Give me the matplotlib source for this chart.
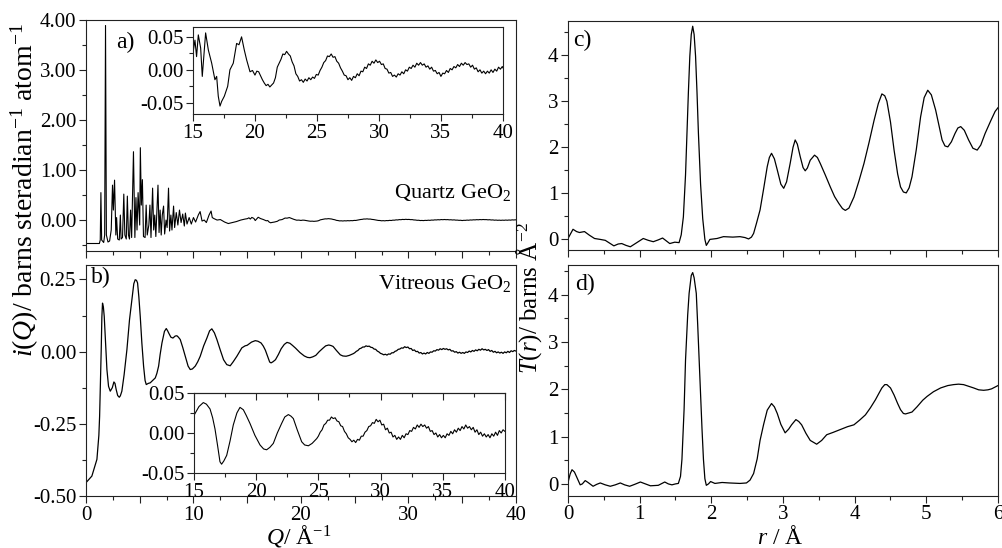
import matplotlib
matplotlib.use('Agg')
import matplotlib.pyplot as plt
from matplotlib.ticker import MultipleLocator, FuncFormatter

plt.rcParams['font.family'] = ['Liberation Serif', 'DejaVu Serif']
plt.rcParams['mathtext.fontset'] = 'custom'
plt.rcParams['mathtext.rm'] = 'Liberation Serif'
plt.rcParams['mathtext.it'] = 'Liberation Serif:italic'
plt.rcParams['mathtext.bf'] = 'Liberation Serif:bold'

# ---------------- data ----------------
# (a) quartz GeO2, i(Q)
quartz_pts = [
    (0.0, -0.47), (1.25, -0.47), (1.33, -0.40), (1.39, 0.55), (1.46, -0.40), (1.65, -0.45),
    (1.74, -0.30), (1.82, 3.90), (1.90, -0.30), (2.05, -0.44), (2.20, -0.42), (2.35, -0.20),
    (2.47, 0.70), (2.55, 0.20), (2.66, 0.80), (2.78, -0.30), (2.85, 0.05), (2.95, -0.38),
    (3.10, -0.40), (3.20, 0.10), (3.27, -0.38), (3.40, -0.35), (3.52, 0.52), (3.62, -0.30),
    (3.75, -0.38), (3.85, 0.48), (3.95, -0.30), (4.05, -0.38), (4.15, 0.20), (4.25, -0.35),
    (4.42, 1.37), (4.55, -0.35), (4.65, 0.45), (4.75, -0.20), (4.85, 0.55), (5.00, -0.10),
    (5.06, 1.45), (5.15, 0.30), (5.25, 0.81), (5.35, -0.33), (5.50, -0.35), (5.60, 0.30),
    (5.70, -0.30), (5.85, -0.10), (5.95, 0.30), (6.05, -0.35), (6.20, 0.64), (6.30, -0.20),
    (6.40, 0.10), (6.50, -0.33), (6.60, 0.20), (6.70, 0.70), (6.80, -0.25), (6.90, 0.20),
    (7.00, -0.30), (7.10, 0.10), (7.22, 0.28), (7.32, -0.28), (7.45, 0.00), (7.55, -0.15),
    (7.68, 0.64), (7.78, -0.22), (7.90, 0.10), (8.00, -0.20), (8.15, 0.28), (8.25, -0.15),
    (8.40, 0.15), (8.55, -0.10), (8.70, 0.20), (8.85, -0.05), (9.00, 0.12), (9.15, -0.12),
    (9.25, 0.14), (9.40, -0.08), (9.60, 0.05), (9.80, -0.08), (10.00, 0.05), (10.20, -0.04),
    (10.45, 0.10), (10.62, 0.17), (10.80, -0.02), (11.00, 0.00), (11.20, -0.05), (11.45, 0.10),
    (11.64, 0.18), (11.75, 0.05), (11.90, 0.03), (12.20, 0.00), (12.50, 0.01), (12.90, -0.04),
    (13.24, -0.07), (13.60, -0.05), (14.00, -0.03), (14.40, 0.00), (14.80, 0.02),
    (15.02, 0.028), (15.16, 0.045), (15.29, 0.020), (15.43, 0.053), (15.62, 0.033),
    (15.75, -0.010), (15.89, 0.025), (16.02, 0.056), (16.24, 0.030), (16.51, 0.010),
    (16.77, -0.015), (16.91, -0.010), (17.04, -0.040), (17.18, -0.055), (17.31, -0.048),
    (17.53, -0.040), (17.80, -0.025), (17.98, 0.000), (18.25, 0.010), (18.52, 0.040),
    (18.71, 0.038), (18.92, 0.050), (19.14, 0.030), (19.33, 0.015), (19.60, -0.003),
    (19.80, -0.001), (20.00, -0.008), (20.15, -0.002), (20.30, -0.003), (20.45, -0.009),
    (20.60, -0.015), (20.75, -0.020), (20.90, -0.024), (21.05, -0.022), (21.20, -0.026),
    (21.35, -0.023), (21.50, -0.020), (21.65, -0.012), (21.80, 0.004), (21.95, 0.010),
    (22.10, 0.016), (22.25, 0.024), (22.40, 0.023), (22.55, 0.028), (22.70, 0.024),
    (22.85, 0.021), (23.00, 0.012), (23.15, 0.006), (23.30, -0.006), (23.45, -0.010),
    (23.60, -0.017), (23.75, -0.015), (23.90, -0.019), (24.05, -0.014), (24.20, -0.017),
    (24.35, -0.012), (24.50, -0.015), (24.65, -0.011), (24.80, -0.013), (24.95, -0.007),
    (25.10, -0.008), (25.25, -0.001), (25.40, 0.004), (25.55, 0.011), (25.70, 0.014),
    (25.85, 0.021), (26.00, 0.020), (26.15, 0.024), (26.30, 0.019), (26.45, 0.020),
    (26.60, 0.013), (26.75, 0.010), (26.90, 0.003), (27.05, -0.002), (27.20, -0.008),
    (27.35, -0.009), (27.50, -0.015), (27.65, -0.012), (27.80, -0.016), (27.95, -0.010),
    (28.10, -0.012), (28.25, -0.006), (28.40, -0.009), (28.55, -0.002), (28.70, -0.003),
    (28.85, 0.004), (29.00, 0.002), (29.15, 0.009), (29.30, 0.007), (29.45, 0.013),
    (29.60, 0.010), (29.75, 0.015), (29.90, 0.011), (30.05, 0.013), (30.20, 0.008),
    (30.35, 0.009), (30.50, 0.002), (30.65, 0.001), (30.80, -0.005), (30.95, -0.004),
    (31.10, -0.010), (31.25, -0.008), (31.40, -0.011), (31.55, -0.006), (31.70, -0.008),
    (31.85, -0.003), (32.00, -0.006), (32.15, 0.000), (32.30, -0.002), (32.45, 0.004),
    (32.60, 0.002), (32.75, 0.007), (32.90, 0.004), (33.05, 0.010), (33.20, 0.007),
    (33.35, 0.011), (33.50, 0.007), (33.65, 0.009), (33.80, 0.004), (33.95, 0.006),
    (34.10, 0.001), (34.25, 0.004), (34.40, -0.002), (34.55, -0.001), (34.70, -0.006),
    (34.85, -0.004), (35.00, -0.010), (35.15, -0.005), (35.30, -0.006), (35.45, -0.001),
    (35.60, -0.004), (35.75, 0.002), (35.90, 0.000), (36.05, 0.005), (36.20, 0.003),
    (36.35, 0.008), (36.50, 0.005), (36.65, 0.010), (36.80, 0.007), (36.95, 0.011),
    (37.10, 0.008), (37.25, 0.009), (37.40, 0.004), (37.55, 0.007), (37.70, 0.001),
    (37.85, 0.003), (38.00, -0.003), (38.15, 0.000), (38.30, -0.005), (38.45, -0.002),
    (38.60, -0.006), (38.75, -0.002), (38.90, -0.005), (39.05, 0.000), (39.20, -0.004),
    (39.35, 0.001), (39.50, -0.002), (39.65, 0.004), (39.80, 0.001), (39.95, 0.005),
    (40.00, 0.003),
]

# (b) vitreous GeO2, i(Q)
vitreous_pts = [
    (0.0, -0.454), (0.55, -0.431), (1.02, -0.373), (1.20, -0.290), (1.27, -0.224), (1.35, -0.100),
    (1.42, 0.007), (1.48, 0.120), (1.54, 0.168), (1.62, 0.155), (1.70, 0.122), (1.82, 0.030),
    (1.95, -0.062), (2.10, -0.120), (2.26, -0.137), (2.45, -0.125), (2.60, -0.105), (2.70, -0.110),
    (2.81, -0.131), (2.95, -0.152), (3.10, -0.158), (3.20, -0.153), (3.34, -0.137), (3.55, -0.080),
    (3.81, 0.007), (4.05, 0.110), (4.27, 0.180), (4.45, 0.235), (4.58, 0.249), (4.70, 0.247),
    (4.80, 0.238), (4.92, 0.190), (5.05, 0.122), (5.20, 0.030), (5.36, -0.050), (5.50, -0.100),
    (5.61, -0.114), (5.80, -0.110), (5.98, -0.108), (6.20, -0.100), (6.45, -0.091), (6.60, -0.075),
    (6.76, -0.050), (6.90, -0.010), (7.07, 0.030), (7.30, 0.070), (7.47, 0.080), (7.60, 0.072),
    (7.69, 0.065), (7.90, 0.050), (8.09, 0.047), (8.30, 0.054), (8.46, 0.055), (8.60, 0.050),
    (8.77, 0.042), (9.00, 0.015), (9.24, -0.016), (9.50, -0.050), (9.70, -0.062), (9.90, -0.060),
    (10.17, -0.050), (10.40, -0.035), (10.63, -0.016), (10.95, 0.020), (11.25, 0.047),
    (11.50, 0.072), (11.71, 0.079), (11.95, 0.065), (12.18, 0.042), (12.50, 0.005),
    (12.80, -0.028), (13.10, -0.045), (13.42, -0.049), (13.70, -0.035), (14.04, -0.016),
    (14.50, 0.013), (14.80, 0.020), (15.00, 0.022), (15.40, 0.033), (15.75, 0.038),
    (16.00, 0.036), (16.29, 0.030), (16.50, 0.019), (16.69, 0.005), (16.90, -0.016),
    (17.09, -0.036), (17.22, -0.039), (17.40, -0.035), (17.63, -0.028), (17.90, -0.010),
    (18.16, 0.010), (18.45, 0.025), (18.70, 0.032), (18.97, 0.029), (19.20, 0.022),
    (19.50, 0.012), (19.90, -0.003), (20.31, -0.015), (20.60, -0.020), (20.84, -0.021),
    (21.10, -0.018), (21.38, -0.013), (21.70, 0.000), (22.05, 0.012), (22.30, 0.020),
    (22.59, 0.023), (22.80, 0.021), (22.99, 0.018), (23.30, 0.004), (23.66, -0.011),
    (23.90, -0.015), (24.20, -0.016), (24.50, -0.013), (24.87, -0.007), (25.00, -0.004),
    (25.15, 0.001), (25.30, 0.004), (25.45, 0.010), (25.60, 0.012), (25.75, 0.016),
    (25.90, 0.016), (26.05, 0.020), (26.20, 0.018), (26.35, 0.019), (26.50, 0.015),
    (26.65, 0.014), (26.80, 0.009), (26.95, 0.008), (27.10, 0.002), (27.25, -0.001),
    (27.40, -0.006), (27.55, -0.008), (27.70, -0.011), (27.85, -0.009), (28.00, -0.012),
    (28.15, -0.008), (28.30, -0.009), (28.45, -0.004), (28.60, -0.004), (28.75, 0.001),
    (28.90, 0.003), (29.05, 0.008), (29.20, 0.009), (29.35, 0.013), (29.50, 0.012),
    (29.65, 0.017), (29.80, 0.014), (29.95, 0.016), (30.10, 0.010), (30.25, 0.011),
    (30.40, 0.004), (30.55, 0.006), (30.70, 0.000), (30.85, 0.001), (31.00, -0.005),
    (31.15, -0.003), (31.30, -0.008), (31.45, -0.005), (31.60, -0.008), (31.75, -0.003),
    (31.90, -0.006), (32.05, -0.001), (32.20, -0.002), (32.35, 0.003), (32.50, 0.002),
    (32.65, 0.007), (32.80, 0.005), (32.95, 0.010), (33.10, 0.007), (33.25, 0.011),
    (33.40, 0.008), (33.55, 0.010), (33.70, 0.006), (33.85, 0.008), (34.00, 0.002),
    (34.15, 0.003), (34.30, -0.002), (34.45, 0.000), (34.60, -0.005), (34.75, -0.002),
    (34.90, -0.006), (35.05, -0.003), (35.20, -0.006), (35.35, -0.001), (35.50, -0.003),
    (35.65, 0.002), (35.80, -0.001), (35.95, 0.004), (36.10, 0.001), (36.25, 0.006),
    (36.40, 0.003), (36.55, 0.008), (36.70, 0.005), (36.85, 0.010), (37.00, 0.006),
    (37.15, 0.008), (37.30, 0.004), (37.45, 0.007), (37.60, 0.001), (37.75, 0.004),
    (37.90, -0.002), (38.05, 0.001), (38.20, -0.004), (38.35, -0.001), (38.50, -0.005),
    (38.65, -0.002), (38.80, -0.006), (38.95, -0.001), (39.10, -0.004), (39.25, 0.001),
    (39.40, -0.003), (39.55, 0.003), (39.70, 0.000), (39.85, 0.004), (40.00, 0.002),
]

# (c) quartz GeO2, T(r)
quartz_T_pts = [
    (0.00, 0.02), (0.07, 0.22), (0.12, 0.17), (0.16, 0.15), (0.23, 0.17), (0.30, 0.09),
    (0.37, 0.02), (0.45, 0.00), (0.52, -0.02), (0.58, -0.08), (0.64, -0.14), (0.70, -0.10),
    (0.75, -0.09), (0.81, -0.13), (0.87, -0.16), (0.95, -0.08), (1.05, 0.02), (1.12, -0.02),
    (1.19, -0.05), (1.26, -0.01), (1.32, 0.03), (1.37, -0.03), (1.42, -0.09), (1.49, -0.06),
    (1.55, -0.07), (1.58, 0.10), (1.61, 0.49), (1.64, 1.40), (1.66, 2.30), (1.68, 3.20),
    (1.70, 3.98), (1.72, 4.45), (1.74, 4.63), (1.76, 4.45), (1.78, 3.98), (1.80, 3.20),
    (1.82, 2.30), (1.85, 1.20), (1.88, 0.45), (1.91, 0.00), (1.93, -0.13), (1.95, -0.08),
    (1.98, 0.00), (2.08, 0.02), (2.17, 0.06), (2.30, 0.05), (2.40, 0.06), (2.47, 0.04),
    (2.52, 0.01), (2.56, 0.05), (2.59, 0.13), (2.63, 0.35), (2.68, 0.64), (2.73, 1.10),
    (2.78, 1.58), (2.81, 1.78), (2.84, 1.87), (2.88, 1.75), (2.92, 1.51), (2.97, 1.20),
    (3.01, 1.11), (3.05, 1.25), (3.10, 1.65), (3.14, 2.00), (3.17, 2.16), (3.20, 2.07),
    (3.24, 1.80), (3.28, 1.56), (3.31, 1.49), (3.34, 1.55), (3.38, 1.72), (3.44, 1.83),
    (3.48, 1.78), (3.52, 1.65), (3.59, 1.40), (3.66, 1.14), (3.72, 0.93), (3.78, 0.78),
    (3.83, 0.67), (3.87, 0.63), (3.92, 0.68), (3.99, 0.92), (4.06, 1.27), (4.13, 1.65),
    (4.20, 2.10), (4.27, 2.58), (4.33, 2.95), (4.38, 3.16), (4.42, 3.12), (4.45, 3.00),
    (4.50, 2.55), (4.55, 1.94), (4.60, 1.42), (4.64, 1.14), (4.68, 1.03), (4.72, 1.01),
    (4.76, 1.12), (4.80, 1.36), (4.86, 1.95), (4.92, 2.66), (4.97, 3.08), (5.02, 3.24),
    (5.07, 3.14), (5.13, 2.81), (5.18, 2.45), (5.22, 2.16), (5.26, 2.03), (5.30, 2.01),
    (5.35, 2.12), (5.40, 2.30), (5.44, 2.42), (5.48, 2.45), (5.53, 2.37), (5.59, 2.16),
    (5.65, 1.98), (5.71, 1.94), (5.76, 2.05), (5.82, 2.30), (5.90, 2.58), (5.96, 2.78),
    (6.00, 2.86),
]

# (d) vitreous GeO2, T(r)
vitreous_T_pts = [
    (0.00, 0.03), (0.03, 0.21), (0.056, 0.30), (0.09, 0.25), (0.12, 0.15), (0.17, -0.02),
    (0.20, 0.00), (0.24, 0.07), (0.28, 0.03), (0.35, -0.05), (0.40, -0.01), (0.45, 0.02),
    (0.52, -0.02), (0.59, -0.05), (0.66, -0.02), (0.73, 0.02), (0.79, -0.02), (0.86, -0.05),
    (0.93, -0.01), (1.01, 0.04), (1.08, 0.00), (1.15, -0.04), (1.26, -0.03), (1.35, 0.04),
    (1.40, 0.00), (1.45, -0.02), (1.50, 0.00), (1.54, 0.01), (1.57, 0.16), (1.59, 0.52),
    (1.62, 1.58), (1.64, 2.62), (1.67, 3.57), (1.69, 4.03), (1.72, 4.41), (1.74, 4.47),
    (1.76, 4.36), (1.79, 4.03), (1.81, 3.36), (1.84, 2.26), (1.87, 1.16), (1.89, 0.52),
    (1.91, 0.11), (1.93, -0.03), (1.96, 0.00), (1.99, 0.05), (2.05, 0.01), (2.15, 0.03),
    (2.25, 0.02), (2.40, 0.01), (2.49, 0.02), (2.54, 0.08), (2.59, 0.22), (2.64, 0.53),
    (2.68, 0.92), (2.73, 1.26), (2.78, 1.56), (2.84, 1.70), (2.88, 1.63), (2.92, 1.49),
    (2.97, 1.26), (3.03, 1.08), (3.08, 1.16), (3.12, 1.25), (3.18, 1.36), (3.22, 1.32),
    (3.26, 1.25), (3.32, 1.07), (3.38, 0.92), (3.47, 0.84), (3.54, 0.92), (3.61, 1.04),
    (3.70, 1.09), (3.80, 1.15), (3.90, 1.21), (3.99, 1.25), (4.07, 1.35), (4.15, 1.46),
    (4.22, 1.61), (4.29, 1.78), (4.34, 1.92), (4.38, 2.03), (4.42, 2.10), (4.45, 2.10),
    (4.50, 2.03), (4.55, 1.88), (4.60, 1.70), (4.64, 1.57), (4.68, 1.49), (4.71, 1.48),
    (4.80, 1.52), (4.87, 1.63), (4.95, 1.77), (5.01, 1.85), (5.10, 1.95), (5.20, 2.03),
    (5.30, 2.08), (5.38, 2.10), (5.45, 2.11), (5.52, 2.10), (5.60, 2.06), (5.66, 2.03),
    (5.73, 1.99), (5.80, 1.98), (5.86, 1.99), (5.91, 2.01), (6.00, 2.08),
]

qa, ia = zip(*quartz_pts)
qb, ib = zip(*vitreous_pts)
rc, tc = zip(*quartz_T_pts)
rd, td = zip(*vitreous_T_pts)

# ---------------- figure ----------------
fig = plt.figure(figsize=(10.03, 5.48), dpi=100)

TICK_FS = 15
LABEL_FS = 17
YLABEL_FS = 20
RLABEL_FS = 18
NOTE_FS = 16
LETTER_FS = 17
LW = 0.9
SPC = '#222222'

fmt2 = FuncFormatter(lambda v, p: f"{v:.2f}".replace("-0.00", "0.00"))
fmt0 = FuncFormatter(lambda v, p: f"{v:.0f}")
fmt_q = FuncFormatter(lambda v, p: f"{v:.0f}" if abs(v % 10) < 1e-6 else "")


def style(ax, xmaj, xmin, ymaj, ymin):
    for s in ax.spines.values():
        s.set_linewidth(0.8)
        s.set_color(SPC)
    ax.xaxis.set_major_locator(MultipleLocator(xmaj))
    ax.xaxis.set_minor_locator(MultipleLocator(xmin))
    ax.yaxis.set_major_locator(MultipleLocator(ymaj))
    ax.yaxis.set_minor_locator(MultipleLocator(ymin))
    ax.tick_params(which='both', direction='out', top=False, right=False,
                   labelsize=TICK_FS, width=0.8, color=SPC, pad=2)
    ax.tick_params(which='major', length=5)
    ax.tick_params(which='minor', length=3)


# panel a
axa = fig.add_axes([0.0857, 0.542, 0.4287, 0.4206])
axa.plot(qa, ia, color='k', lw=0.8)
axa.set_xlim(0, 40)
axa.set_ylim(-0.62, 4.0)
style(axa, 5, 2.5, 1, 0.5)
axa.yaxis.set_major_formatter(fmt2)
axa.tick_params(labelbottom=False)
axa.text(0.07, 0.905, 'a)', transform=axa.transAxes, fontsize=LETTER_FS, va='center', ha='left')
axa.text(0.99, 0.255, r'Quartz GeO$_2$', transform=axa.transAxes, fontsize=NOTE_FS,
         va='center', ha='right')

# inset a
ina = fig.add_axes([0.1924, 0.792, 0.309, 0.1588])
ina.plot(qa, ia, color='k', lw=0.8)
ina.set_xlim(15, 40)
ina.set_ylim(-0.067, 0.065)
style(ina, 5, 2.5, 0.05, 0.025)
ina.yaxis.set_major_formatter(fmt2)
ina.xaxis.set_major_formatter(fmt0)

# panel b
axb = fig.add_axes([0.0857, 0.0949, 0.4287, 0.4215])
axb.plot(qb, ib, color='k', lw=LW)
axb.set_xlim(0, 40)
axb.set_ylim(-0.5, 0.30)
style(axb, 5, 2.5, 0.25, 0.125)
axb.yaxis.set_major_formatter(fmt2)
axb.xaxis.set_major_formatter(fmt_q)
axb.text(0.012, 0.945, 'b)', transform=axb.transAxes, fontsize=LETTER_FS, va='center', ha='left')
axb.text(0.99, 0.92, r'Vitreous GeO$_2$', transform=axb.transAxes, fontsize=NOTE_FS,
         va='center', ha='right')

# inset b
inb = fig.add_axes([0.1934, 0.1369, 0.310, 0.146])
inb.plot(qb, ib, color='k', lw=0.8)
inb.set_xlim(15, 40)
inb.set_ylim(-0.05, 0.05)
style(inb, 5, 2.5, 0.05, 0.025)
inb.yaxis.set_major_formatter(fmt2)
inb.xaxis.set_major_formatter(fmt0)
sec = inb.secondary_xaxis('top')
sec.xaxis.set_major_locator(MultipleLocator(5))
sec.xaxis.set_minor_locator(MultipleLocator(2.5))
sec.tick_params(which='both', direction='in', labeltop=False, width=0.8, color=SPC)
sec.tick_params(which='major', length=5)
sec.tick_params(which='minor', length=3)
sec.spines['top'].set_linewidth(0.8)
sec.spines['top'].set_color(SPC)

# panel c
axc = fig.add_axes([0.5663, 0.5438, 0.4287, 0.4184])
axc.plot(rc, tc, color='k', lw=LW)
axc.set_xlim(0, 6)
axc.set_ylim(-0.23, 4.75)
style(axc, 1, 0.5, 1, 0.5)
axc.yaxis.set_major_formatter(fmt0)
axc.tick_params(labelbottom=False)
axc.text(0.012, 0.915, 'c)', transform=axc.transAxes, fontsize=LETTER_FS, va='center', ha='left')

# panel d
axd = fig.add_axes([0.5663, 0.0954, 0.4287, 0.421])
axd.plot(rd, td, color='k', lw=LW)
axd.set_xlim(0, 6)
axd.set_ylim(-0.25, 4.63)
style(axd, 1, 0.5, 1, 0.5)
axd.yaxis.set_major_formatter(fmt0)
axd.xaxis.set_major_formatter(fmt0)
axd.text(0.016, 0.915, 'd)', transform=axd.transAxes, fontsize=LETTER_FS, va='center', ha='left')

# axis labels
fig.text(0.025, 0.653, r'$i$($Q$)/ barns steradian$^{-1}$ atom$^{-1}$', rotation=90,
         fontsize=YLABEL_FS, ha='center', va='center')
fig.text(0.298, 0.022, r'$Q$/ Å$^{-1}$', fontsize=LABEL_FS, ha='center', va='center')
fig.text(0.527, 0.456, r'$T$($r$)/ barns Å$^{-2}$', rotation=90,
         fontsize=RLABEL_FS, ha='center', va='center')
fig.text(0.778, 0.020, r'$r$ / Å', fontsize=LABEL_FS, ha='center', va='center')

fig.savefig('out.png', dpi=100)
